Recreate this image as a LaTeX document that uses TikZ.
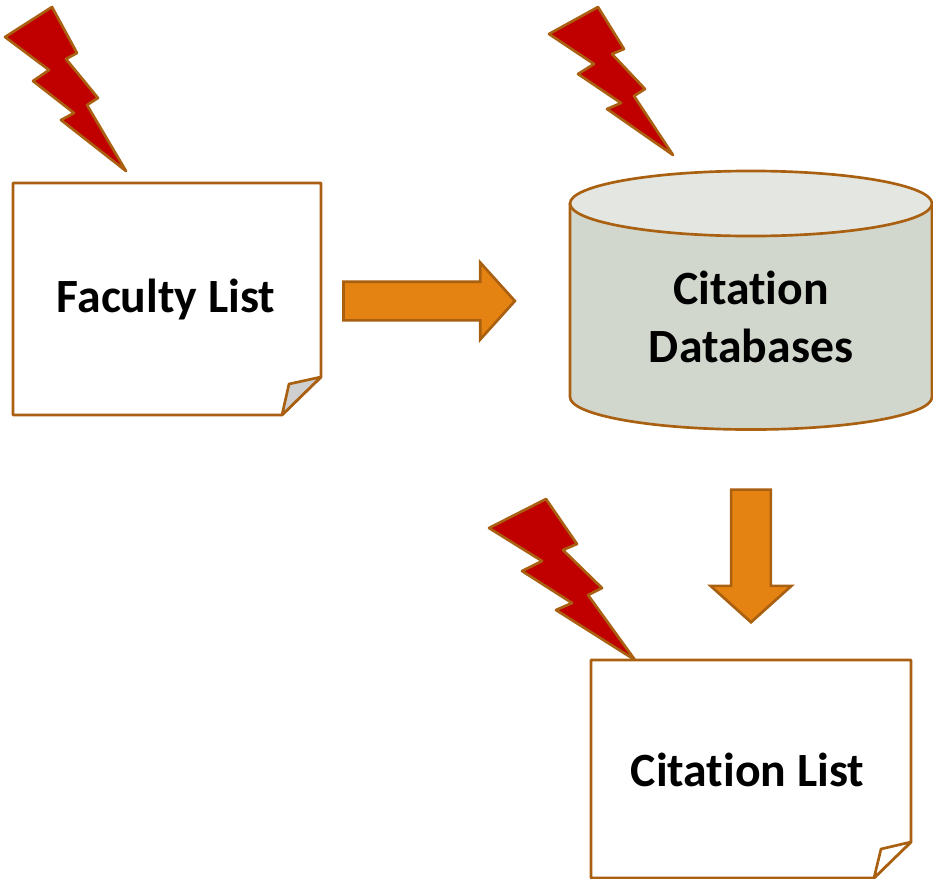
\documentclass[tikz,border=0pt]{standalone}
\usepackage{fontspec}
\setmainfont[Ligatures=NoCommon]{Carlito}
\usetikzlibrary{shapes.arrows}
\definecolor{edgebrown}{HTML}{A96010}
\definecolor{boltred}{HTML}{C00000}
\definecolor{arroworange}{HTML}{E48312}
\definecolor{dbbody}{HTML}{D2D7CD}
\definecolor{dbtop}{HTML}{E4E7E1}
\definecolor{foldgray}{HTML}{CFCFCF}
\tikzset{
    bolt/.style={draw=edgebrown, line width=2pt, line join=round, fill=boltred},
    paper/.style={draw=edgebrown, line width=2pt, line join=round, fill=white},
    label/.style={font=\bfseries\fontsize{35.8}{43.5}\selectfont, align=center, text=black},
    blockarrow/.style={single arrow, draw=edgebrown, line width=2pt, fill=arroworange, inner xsep=0pt, outer sep=0pt,
        inner ysep=13.5pt, minimum height=128.5pt, single arrow head extend=14.3pt, single arrow tip angle=96}
}
\begin{document}
\begin{tikzpicture}[x=0.75pt,y=-0.75pt]
    \useasboundingbox (0,0) rectangle (933,879);

    % lightning
    \draw[bolt] (52,7) -- (77,53) -- (66,59) -- (98,98) -- (87,105) -- (126,171) -- (61,120) -- (74,113) -- (33,81) -- (49,70) -- (5,37) -- cycle;
    \draw[bolt] (598,7) -- (624,49) -- (612,54) -- (645,89) -- (634,96) -- (673,155) -- (607,109) -- (621,103) -- (578,74) -- (594,64) -- (549,34) -- cycle;
    \draw[bolt] (546,499) -- (577,544) -- (563,550) -- (602,588) -- (588,595) -- (635,660) -- (556,610) -- (572,603) -- (522,571) -- (542,561) -- (489,528) -- cycle;

    % faculty list
    \draw[paper] (13,183) -- (321,183) -- (321,377) -- (282,415) -- (13,415) -- cycle;
    \draw[paper, fill=foldgray] (321,377) -- (289,384) -- (282,415) -- cycle;
    \node[label] at (166,300) (faculty) {Faculty List};

    % citation list
    \draw[paper] (591,660) -- (911,660) -- (911,842) -- (874,878) -- (591,878) -- cycle;
    \draw[paper] (911,842) -- (881,849) -- (874,878) -- cycle;
    \node[label] at (747.5,770) (citlist) {Citation List};

    % databases
    \draw[paper, fill=dbbody] (570,203.5) -- (570,397) arc[x radius=135.75pt, y radius=24.4pt, start angle=180, end angle=360] -- (932,203.5) -- cycle;
    \draw[paper, fill=dbtop] (751,203.5) ellipse[x radius=135.75pt, y radius=24.4pt];
    \node[label] at (751,317) (dbtext) {Citation\\Databases};

    % arrows
    \node[blockarrow] at (420.5,301) (toDb) {};
    \node[blockarrow, rotate=-90, minimum height=99.5pt, inner ysep=13.9pt, single arrow head extend=15.4pt] at (751,547) (toList) {};
\end{tikzpicture}
\end{document}
